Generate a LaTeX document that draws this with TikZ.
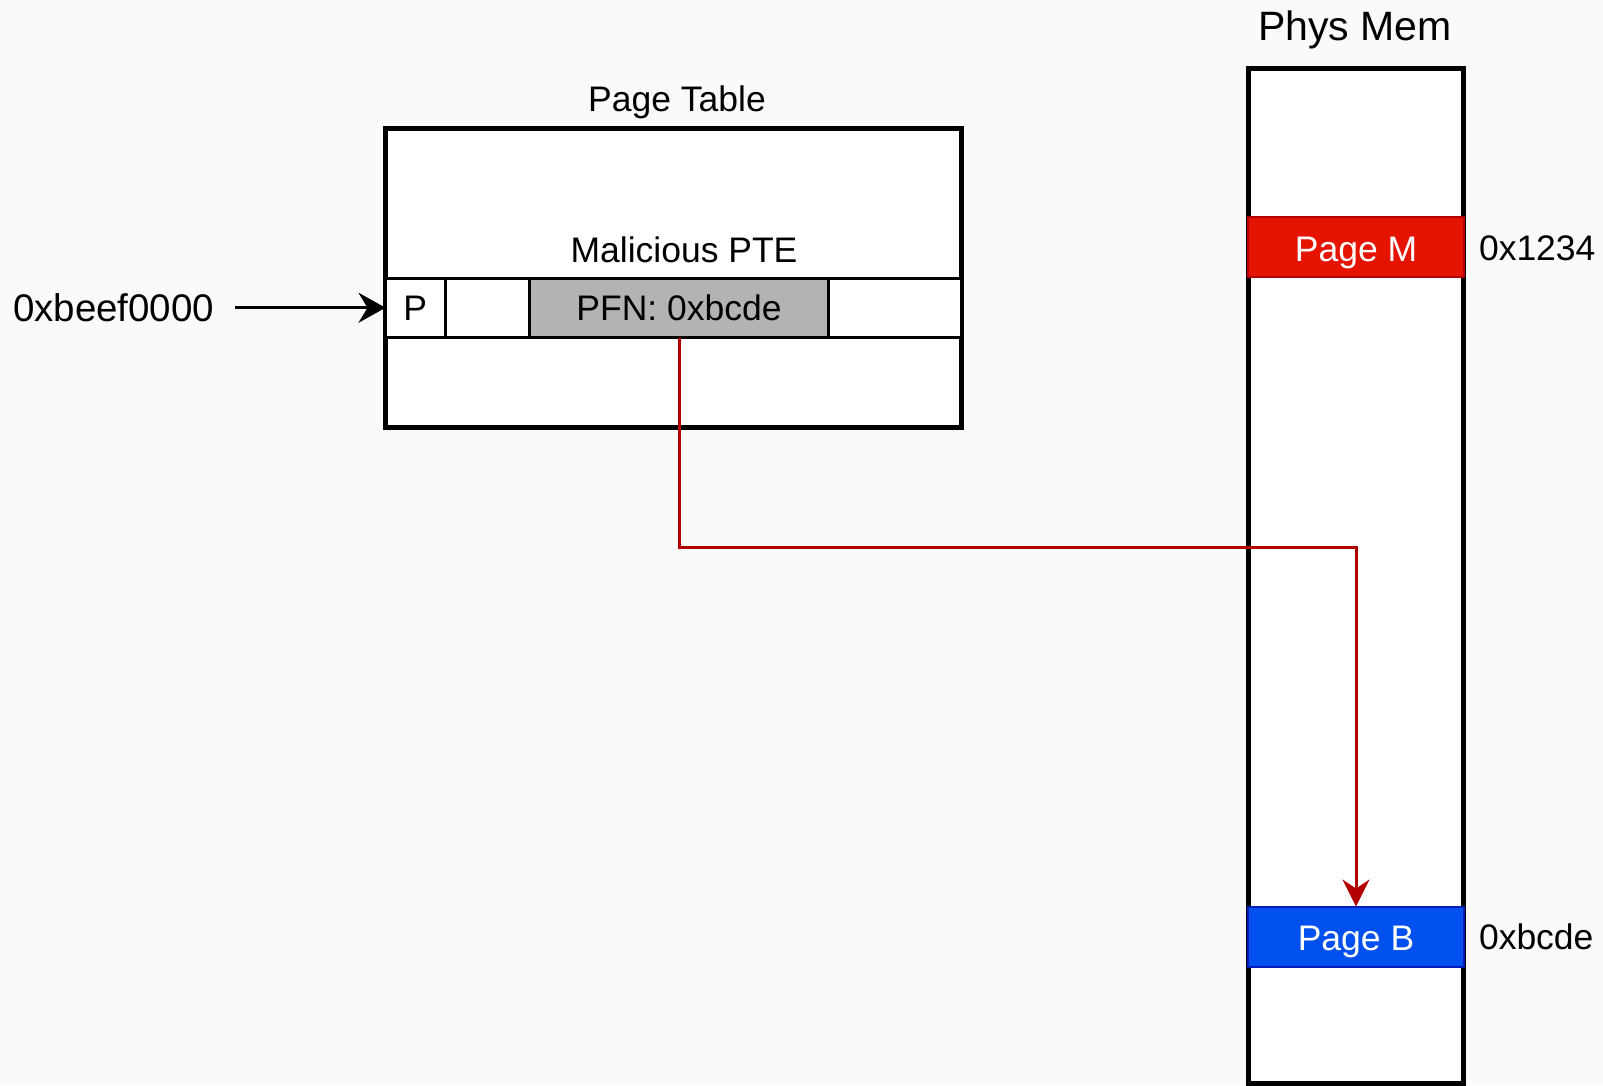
\documentclass[tikz,border=0pt]{standalone}
\usepackage{fontspec}
\setmainfont{Liberation Sans}
\usetikzlibrary{arrows.meta}

\definecolor{canvas}{HTML}{FAFAFA}
\definecolor{pfngray}{HTML}{B3B3B3}
\definecolor{pagered}{HTML}{E51400}
\definecolor{pageredline}{HTML}{B20000}
\definecolor{pageblue}{HTML}{0050EF}
\definecolor{pageblueline}{HTML}{001DBC}
\definecolor{linkred}{HTML}{B20000}

\tikzset{
  txt/.style={inner sep=0pt, outer sep=0pt, font=\fontsize{35.5pt}{42pt}\selectfont},
  frame/.style={draw, line width=5pt, fill=white, inner sep=0pt, outer sep=0pt},
  cell/.style={draw, line width=3pt, fill=white, inner sep=0pt, outer sep=0pt,
    minimum height=59.5pt, text height=25.4pt, text depth=0pt,
    font=\fontsize{35.5pt}{42pt}\selectfont},
  page/.style={line width=2pt, inner sep=0pt, outer sep=0pt,
    minimum width=216pt, minimum height=60pt, text=white,
    text height=28.4pt, text depth=0pt,
    font=\fontsize{35.5pt}{42pt}\selectfont},
  ptr/.style={line width=3pt, -{Stealth[length=27pt,width=30pt,inset=9pt]}},
  link/.style={draw=linkred, line width=3pt,
    -{Stealth[length=27pt,width=27pt,inset=9pt,fill=linkred]}},
}

\begin{document}
\begin{tikzpicture}[x=1pt,y=-1pt]
  % canvas
  \fill[canvas] (0,0) rectangle (1603,1085);
  \useasboundingbox (0,0) rectangle (1603,1085);

  % page table
  \node[txt, anchor=base] (pttitle) at (677,111.5) {Page Table};
  \node[frame, minimum width=575.5pt, minimum height=298.5pt] (pt) at (673.25,277.75) {};
  \node[txt, anchor=base] (ptelabel) at (684,262) {Malicious PTE};

  % the malicious entry, split into its fields
  \node[cell, minimum width=59.5pt]  (pbit)  at (415.25,307.75) {P};
  \node[cell, minimum width=84.5pt]  (resv)  at (487.25,307.75) {};
  \node[cell, minimum width=299pt, fill=pfngray] (pfn) at (679,307.75) {PFN: 0xbcde};
  \node[cell, minimum width=132.5pt] (rest)  at (894.75,307.75) {};

  % virtual address pointing at the entry
  \node[inner sep=0pt, outer sep=0pt, anchor=base west,
        font=\fontsize{38.5pt}{46pt}\selectfont] (vaddr) at (13,321) {0xbeef0000};
  \draw[ptr, shorten <=21pt] (vaddr.east |- pbit.west) -- (pbit.west);

  % physical memory
  \node[inner sep=0pt, anchor=base, font=\fontsize{41pt}{48pt}\selectfont]
        (pmtitle) at (1355,40) {Phys Mem};
  \node[frame, minimum width=215pt, minimum height=1015pt] (pm) at (1355.5,575.5) {};

  \node[page, fill=pagered, draw=pageredline] (pagem) at (1356,247.25) {Page M};
  \node[txt, anchor=base west] (addrm) at (1479,260) {0x1234};

  \node[page, fill=pageblue, draw=pageblueline] (pageb) at (1356,936.5) {Page B};
  \node[txt, anchor=base west] (addrb) at (1479,949) {0xbcde};

  % frame number resolves to Page B
  \coordinate (turn) at (0,547);
  \draw[link] (pfn.south) -- (pfn.south |- turn) -| (pageb.north);
\end{tikzpicture}
\end{document}
